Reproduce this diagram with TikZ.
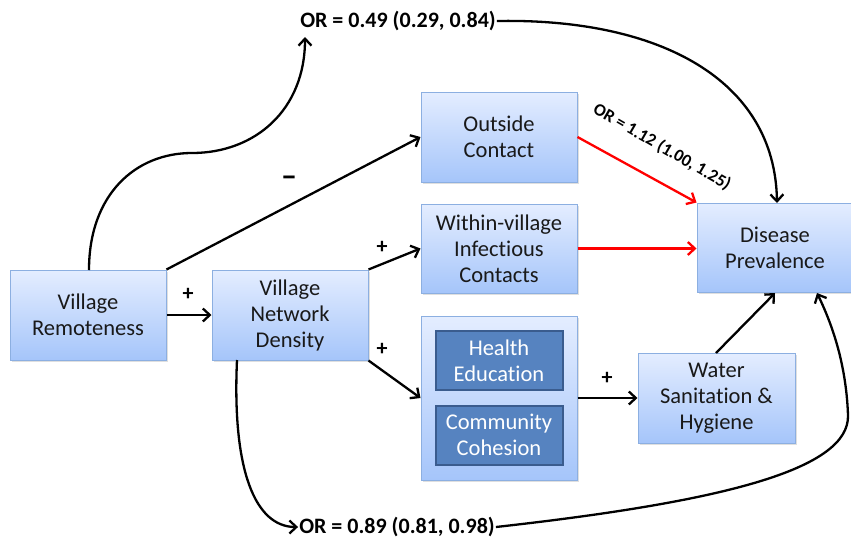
\documentclass[tikz,border=0pt]{standalone}
\usepackage{fontspec}
\setmainfont{Carlito}[Ligatures=NoCommon]
\usetikzlibrary{arrows.meta,shadows}
\definecolor{boxtop}{RGB}{228,237,255}
\definecolor{boxbot}{RGB}{165,197,250}
\definecolor{boxline}{RGB}{140,175,225}
\definecolor{innerfill}{RGB}{86,131,192}
\definecolor{innerline}{RGB}{58,92,142}
\definecolor{txt}{RGB}{25,25,25}
\tikzset{
  bluebox/.style={draw=boxline, line width=1pt, top color=boxtop, bottom color=boxbot,
    minimum width=156pt, minimum height=90pt, inner sep=0pt, align=center,
    text=txt, font=\fontsize{22.5}{26}\selectfont,
    drop shadow={opacity=0.25, shadow xshift=2pt, shadow yshift=-2pt}},
  innerbox/.style={draw=innerline, line width=2pt, fill=innerfill,
    minimum width=127pt, minimum height=59pt, inner sep=0pt, align=center,
    text=white, font=\fontsize{22.5}{26}\selectfont},
  orlabel/.style={font=\bfseries\fontsize{22}{24}\selectfont, inner sep=1pt},
  sign/.style={font=\bfseries\fontsize{22}{24}\selectfont, inner sep=0pt},
  conn/.style={line width=2.3pt, -{Straight Barb[length=7pt,width=13pt,line width=2.3pt]}},
  redconn/.style={conn, draw=red},
}
\begin{document}
\begin{tikzpicture}[x=1pt,y=-1pt]
\useasboundingbox (0,0) rectangle (851,541);
% boxes
\node[bluebox] (vr) at (88,315) {Village\\Remoteness};
\node[bluebox] (vnd) at (290,315) {Village\\Network\\Density};
\node[bluebox] (oc) at (499,137) {Outside\\Contact};
\node[bluebox, minimum height=89pt] (wic) at (499,248.5) {Within-village\\Infectious\\Contacts};
\node[bluebox, minimum height=164pt] (big) at (499,398) {};
\node[innerbox] (he) at (499,360.5) {Health\\Education};
\node[innerbox] (cc) at (499,435) {Community\\Cohesion};
\node[bluebox, minimum width=156pt, minimum height=89pt] (dp) at (775,247.5) {Disease\\Prevalence};
\node[bluebox, minimum width=157pt] (wsh) at (716.5,398) {Water\\Sanitation \&\\Hygiene};
% OR labels
\node[orlabel] (ortop) at (398,21) {OR = 0.49 (0.29, 0.84)};
\node[orlabel] (orbot) at (397,527) {OR = 0.89 (0.81, 0.98)};
\node[orlabel, font=\bfseries\fontsize{17.5}{20}\selectfont, rotate=-30] (orred) at (662,147) {OR = 1.12 (1.00, 1.25)};
% coordinates
\coordinate (vrtop) at (89,270);
\coordinate (toptip) at (305,37);
\coordinate (vndbot) at (237,360);
\coordinate (dptop) at (777,203);
\coordinate (dpbotl) at (775,293);
\coordinate (dpbotr) at (817,293);
\coordinate (wshtop) at (716,353);
% connectors
\draw[conn] (vrtop) .. controls (89,195) and (135,153) .. (192,153)
  .. controls (255,153) and (305,110) .. (toptip);
\draw[conn] (vr.north east) -- (oc.west);
\draw[conn] (vr.east) -- (vnd.west);
\draw[conn] (vnd.north east) -- (wic.west);
\draw[conn] (vnd.south east) -- (big.west);
\draw[conn] (vndbot) .. controls (232,470) and (255,527) .. (orbot.west);
\draw[conn] (orbot.east) .. controls (720,502) and (850,470) .. (848,415)
  .. controls (846,360) and (830,320) .. (dpbotr);
\draw[conn] (ortop.east) .. controls (660,18) and (775,80) .. (dptop);
\draw[redconn] (oc.east) -- (dp.north west);
\draw[redconn] (wic.east) -- (dp.west |- wic.east);
\draw[conn] (big.east) -- (wsh.west);
\draw[conn] (wshtop) -- (dpbotl);
% signs
\node[sign] (s1) at (188,294) {+};
\node[sign, font=\bfseries\fontsize{32}{32}\selectfont] (s2) at (289,181) {\textendash};
\node[sign] (s3) at (382,247) {+};
\node[sign] (s4) at (382,349) {+};
\node[sign] (s5) at (607,378) {+};
\end{tikzpicture}
\end{document}
